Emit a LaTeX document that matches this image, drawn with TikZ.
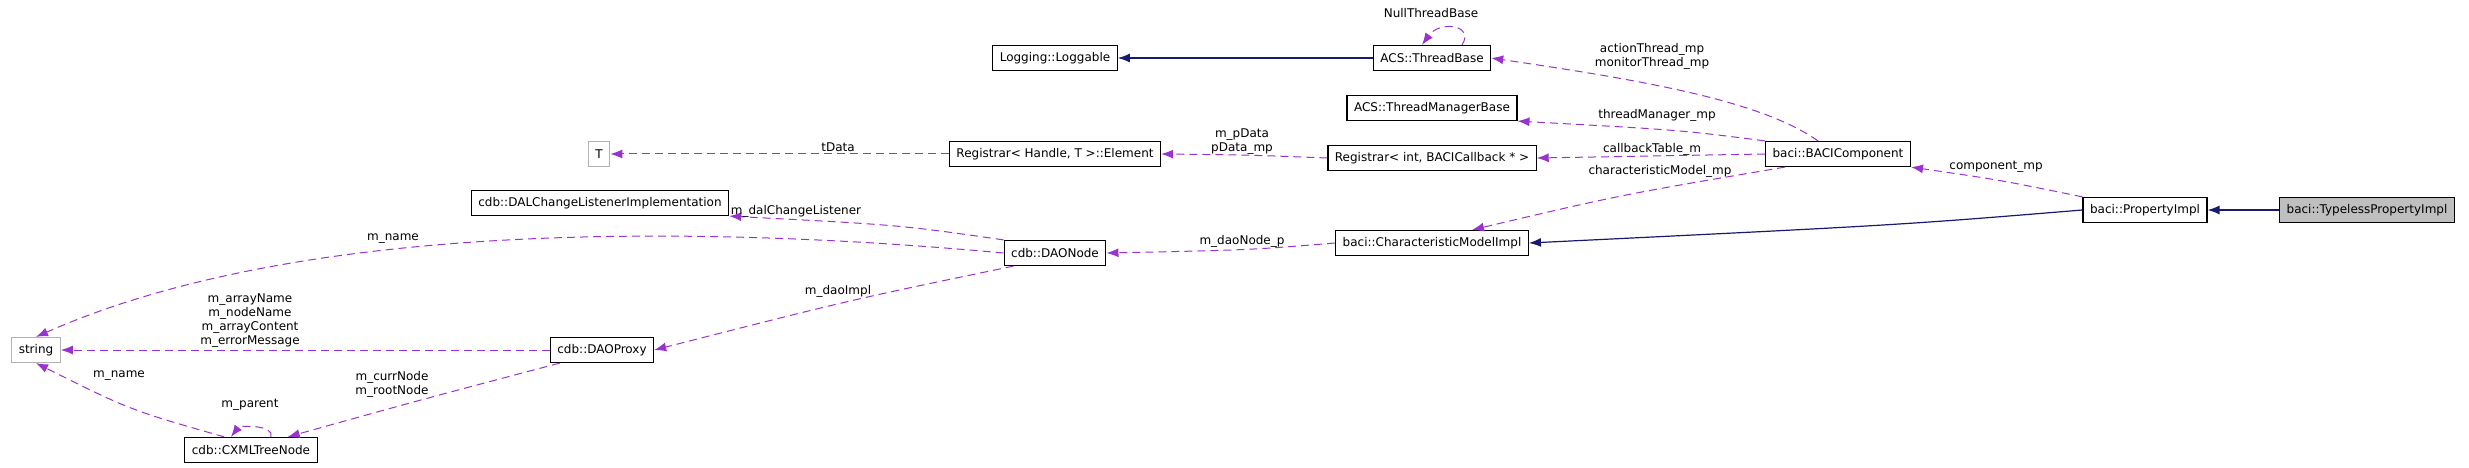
\documentclass[tikz,border=0pt]{standalone}
\usepackage{fontspec}
\setmainfont{DejaVu Sans}
\usetikzlibrary{arrows.meta,calc}
\definecolor{memberc}{HTML}{9A32CD}
\definecolor{inheritc}{HTML}{191970}
\begin{document}
\begin{tikzpicture}[x=1pt,y=-1pt,font=\fontsize{12}{14}\selectfont]
\useasboundingbox (0,0) rectangle (2469,468);
%%%%%%%%%%%%%%%%%%%%%%%%%%%%%%%%%%%%%%%%%%%%%%%%%%%%%%%%%%%%%%
%vertex
\tikzstyle{cls}=[draw,line width=1.2pt,minimum height=25pt,inner xsep=7pt,inner ysep=0pt]
\tikzstyle{ext}=[draw=black!30,line width=1.2pt,minimum height=25pt,inner xsep=7pt,inner ysep=0pt]
\tikzstyle{use}=[->,>={Latex[length=12pt,width=9pt]},memberc,line width=1pt,dash pattern=on 8pt off 5pt]
\tikzstyle{inh}=[->,>={Latex[length=12pt,width=9pt]},inheritc,line width=1.2pt]
\tikzstyle{lbl}=[inner sep=0pt,align=center]

%baci
\node[cls,fill=black!25] (typeless) at (2367,210) {baci::TypelessPropertyImpl};
\node[cls] (propimpl) at (2145,210) {baci::PropertyImpl};
\node[cls] (bacicomp) at (1838,154) {baci::BACIComponent};
\node[cls] (charmodel) at (1432,243) {baci::CharacteristicModelImpl};
%ACS
\node[cls] (threadbase) at (1432,58) {ACS::ThreadBase};
\node[cls] (threadmgr) at (1432,108) {ACS::ThreadManagerBase};
\node[cls] (loggable) at (1055,58) {Logging::Loggable};
%registrar
\node[cls] (regint) at (1432,158) {Registrar< int, BACICallback * >};
\node[cls] (element) at (1055,154) {Registrar< Handle, T >::Element};
\node[ext] (tparam) at (599,154) {T};
%cdb
\node[cls] (dallistener) at (600,203) {cdb::DALChangeListenerImplementation};
\node[cls] (daonode) at (1055,253) {cdb::DAONode};
\node[cls] (daoproxy) at (602,350) {cdb::DAOProxy};
\node[cls] (xmltree) at (251,450) {cdb::CXMLTreeNode};
\node[ext] (string) at (36,350) {string};

%%%%%%%%%%%%%%%%%%%%%%%%%%%%%%%%%%%%%%%%%%%%%%%%%%%%%%%%%%%%%%
%ARROWS
%inheritance
\draw[inh] (typeless) -- (propimpl);
\draw[inh] (propimpl.west) .. controls (1900,225) .. (charmodel.east);
\draw[inh] (threadbase) -- (loggable);

%members of baci
\draw[use] (propimpl.north west) .. controls (2000,180) .. (bacicomp.south east);
\draw[use] ($(bacicomp.north)+(-20,0)$) .. controls (1760,100) and (1640,80) .. (threadbase.east);
\draw[use] ($(threadbase.north)+(30,0)$) .. controls (1475,25) and (1440,20) .. ($(threadbase.north)+(-10,0)$);
\draw[use] (bacicomp.north west) .. controls (1680,130) .. (threadmgr.south east);
\draw[use] (bacicomp.west) -- (regint.east);
\draw[use] ($(bacicomp.south west)+(20,0)$) .. controls (1620,195) .. ($(charmodel.north)+(40,0)$);

%registrar
\draw[use] (regint.west) .. controls (1250,155) .. (element.east);
\draw[use] (element.west) -- (tparam.east);

%cdb
\draw[use] (charmodel.west) .. controls (1250,250) .. (daonode.east);
\draw[use] (daonode.north west) .. controls (900,225) .. (dallistener.south east);
\draw[use] (daonode.west) .. controls (700,225) and (300,220) .. (string.north);
\draw[use] ($(daonode.south west)+(10,0)$) .. controls (850,300) .. (daoproxy.east);
\draw[use] (daoproxy.west) -- (string.east);
\draw[use] ($(daoproxy.south west)+(10,0)$) .. controls (420,400) .. ($(xmltree.north east)+(-30,0)$);
\draw[use] ($(xmltree.north west)+(40,0)$) .. controls (130,410) .. (string.south);
\draw[use] ($(xmltree.north)+(20,0)$) .. controls (275,425) and (240,425) .. ($(xmltree.north)+(-20,0)$);

%labels
\node[lbl] (lnull) at (1431,13) {NullThreadBase};
\node[lbl] (lthread) at (1652,56) {actionThread\_mp\\monitorThread\_mp};
\node[lbl] (lmgr) at (1657,115) {threadManager\_mp};
\node[lbl] (lcb) at (1652,149) {callbackTable\_m};
\node[lbl] (lcm) at (1660,171) {characteristicModel\_mp};
\node[lbl] (lcomp) at (1996,167) {component\_mp};
\node[lbl] (lpdata) at (1242,142) {m\_pData\\pData\_mp};
\node[lbl] (ltdata) at (838,147) {tData};
\node[lbl] (ldal) at (796,211) {m\_dalChangeListener};
\node[lbl] (lname1) at (393,239) {m\_name};
\node[lbl] (ldaonode) at (1242,241) {m\_daoNode\_p};
\node[lbl] (ldaoimpl) at (838,291) {m\_daoImpl};
\node[lbl] (lproxy) at (250,321) {m\_arrayName\\m\_nodeName\\m\_arrayContent\\m\_errorMessage};
\node[lbl] (lname2) at (119,376) {m\_name};
\node[lbl] (lcurr) at (392,384) {m\_currNode\\m\_rootNode};
\node[lbl] (lparent) at (250,405) {m\_parent};
\end{tikzpicture}
\end{document}
